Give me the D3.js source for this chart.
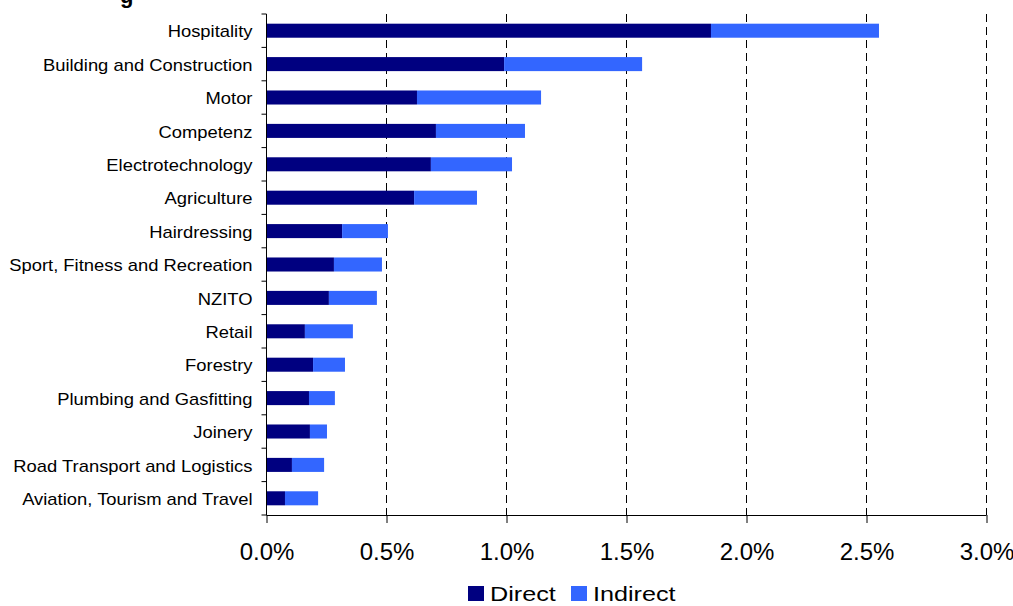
<!DOCTYPE html>
<html><head><meta charset="utf-8">
<script src="https://cdn.jsdelivr.net/npm/d3@7"></script>
<style>
body{margin:0;background:#fff;}
svg{display:block;font-family:"Liberation Sans",Arial,sans-serif;}
</style></head>
<body><svg id="c" width="1013" height="606"></svg>
<script>
const categories = ["Hospitality","Building and Construction","Motor","Competenz","Electrotechnology","Agriculture","Hairdressing","Sport, Fitness and Recreation","NZITO","Retail","Forestry","Plumbing and Gasfitting","Joinery","Road Transport and Logistics","Aviation, Tourism and Travel"];
const direct   = [1.852,0.990,0.627,0.706,0.685,0.615,0.315,0.281,0.260,0.160,0.194,0.177,0.181,0.106,0.077];
const indirect = [0.700,0.575,0.517,0.371,0.338,0.262,0.191,0.200,0.200,0.200,0.133,0.108,0.071,0.134,0.138];
const xTicks = [0,0.5,1.0,1.5,2.0,2.5,3.0];
const seriesNames = ["Direct","Indirect"];
const colors = ["#000080","#3366FF"];

(function(){
const svg = d3.select("#c");
const L = 266.5, R = 986.5, T = 14, B = 515;
const x = d3.scaleLinear().domain([0,3]).range([L,R]);
const y = d3.scaleBand().domain(categories).range([T,B]).paddingInner(0.58).paddingOuter(0.29);

// partially visible title
svg.append("text").attr("x",120).attr("y",3).attr("font-size",22).attr("font-weight","bold").text("g");

// grid
svg.append("g").selectAll("line").data(xTicks.slice(1)).join("line")
  .attr("x1",d=>x(d)).attr("x2",d=>x(d)).attr("y1",T).attr("y2",B)
  .attr("stroke","#000").attr("stroke-width",1).attr("stroke-dasharray","8,5")
  .attr("shape-rendering","crispEdges");

// bars
const stack = categories.map((c,i)=>({c, d:direct[i], n:indirect[i]}));
const g = svg.append("g");
g.selectAll("rect.d").data(stack).join("rect").attr("class","d")
  .attr("x",x(0)).attr("y",d=>y(d.c)).attr("height",y.bandwidth())
  .attr("width",d=>x(d.d)-x(0)).attr("fill",colors[0]);
g.selectAll("rect.n").data(stack).join("rect").attr("class","n")
  .attr("x",d=>x(d.d)).attr("y",d=>y(d.c)).attr("height",y.bandwidth())
  .attr("width",d=>x(d.d+d.n)-x(d.d)).attr("fill",colors[1]);

// x axis
const xa = svg.append("g").attr("transform",`translate(0,${B})`)
  .call(d3.axisBottom(x).tickValues(xTicks).tickSize(8).tickFormat(d=>d.toFixed(1)+"%"));
xa.select(".domain").attr("stroke","#000").attr("d",`M${L},0.5H${R}`);
xa.selectAll("text").attr("font-size",24).attr("y",45).attr("dy",0)
  .attr("font-family","Liberation Sans, Arial, sans-serif").attr("fill","#000");

// y axis
const ya = svg.append("g");
ya.append("line").attr("x1",L).attr("x2",L).attr("y1",T).attr("y2",B).attr("stroke","#000");
const bounds = d3.range(categories.length+1).map(i=>T + (B-T)*i/categories.length);
ya.selectAll("line.t").data(bounds).join("line").attr("class","t")
  .attr("x1",L-5).attr("x2",L).attr("y1",d=>d).attr("y2",d=>d).attr("stroke","#000");
ya.selectAll("text").data(categories).join("text")
  .attr("transform",d=>`translate(${L-14},${y(d)+y.bandwidth()/2+1}) scale(1.15,1)`)
  .attr("dy","0.35em")
  .attr("text-anchor","end").attr("font-size",16).text(d=>d);

// legend
const lg = svg.append("g");
const items = [{n:seriesNames[0],c:colors[0],x:468},{n:seriesNames[1],c:colors[1],x:571}];
lg.selectAll("rect").data(items).join("rect")
  .attr("x",d=>d.x).attr("y",586).attr("width",16).attr("height",15).attr("fill",d=>d.c);
lg.selectAll("text").data(items).join("text")
  .attr("transform",d=>`translate(${d.x+22},601) scale(1.2,1)`)
  .attr("font-size",21).text(d=>d.n);
})();
</script></body></html>
